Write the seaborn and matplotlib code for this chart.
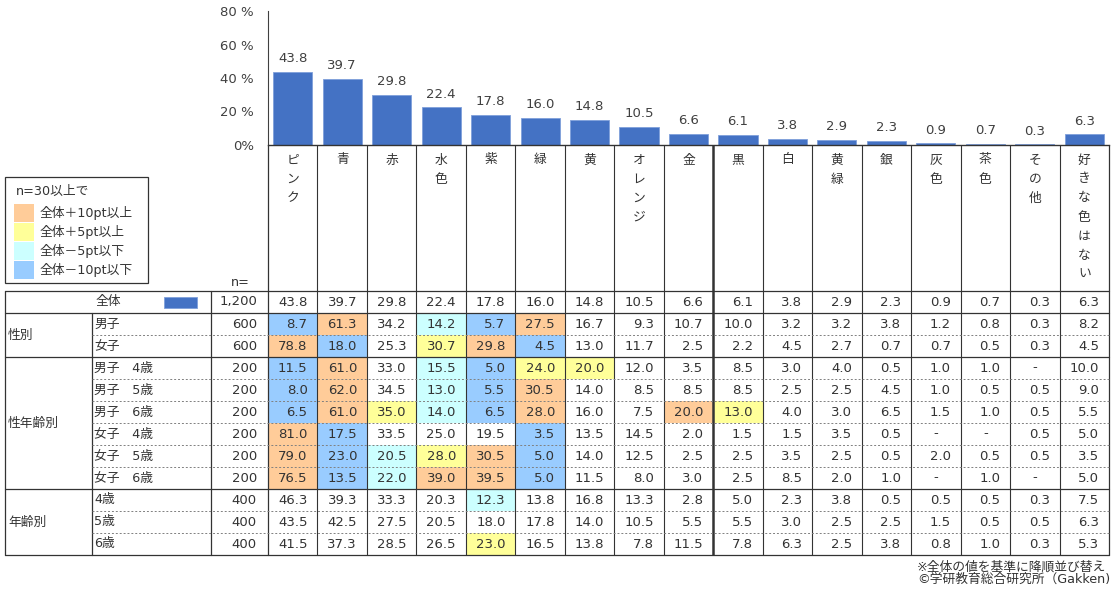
import numpy as np
import pandas as pd
import matplotlib.pyplot as plt
import seaborn as sns
from matplotlib.colors import ListedColormap
from matplotlib.patches import Rectangle

# ─────────────────────────────────────────
# DATOS
# ─────────────────────────────────────────
colores = ['ピンク', '青', '赤', '水色', '紫', '緑', '黄', 'オレンジ', '金',
           '黒', '白', '黄緑', '銀', '灰色', '茶色', 'その他', '好きな色はない']

total = [43.8, 39.7, 29.8, 22.4, 17.8, 16.0, 14.8, 10.5, 6.6,
         6.1, 3.8, 2.9, 2.3, 0.9, 0.7, 0.3, 6.3]
n_total = 1200

grupos = [('性別', ['男子', '女子']),
          ('性年齢別', ['男子　4歳', '男子　5歳', '男子　6歳',
                    '女子　4歳', '女子　5歳', '女子　6歳']),
          ('年齢別', ['4歳', '5歳', '6歳'])]

n_filas = [600, 600, 200, 200, 200, 200, 200, 200, 400, 400, 400]

NA = np.nan
datos = [
    [8.7, 61.3, 34.2, 14.2, 5.7, 27.5, 16.7, 9.3, 10.7, 10.0, 3.2, 3.2, 3.8, 1.2, 0.8, 0.3, 8.2],
    [78.8, 18.0, 25.3, 30.7, 29.8, 4.5, 13.0, 11.7, 2.5, 2.2, 4.5, 2.7, 0.7, 0.7, 0.5, 0.3, 4.5],
    [11.5, 61.0, 33.0, 15.5, 5.0, 24.0, 20.0, 12.0, 3.5, 8.5, 3.0, 4.0, 0.5, 1.0, 1.0, NA, 10.0],
    [8.0, 62.0, 34.5, 13.0, 5.5, 30.5, 14.0, 8.5, 8.5, 8.5, 2.5, 2.5, 4.5, 1.0, 0.5, 0.5, 9.0],
    [6.5, 61.0, 35.0, 14.0, 6.5, 28.0, 16.0, 7.5, 20.0, 13.0, 4.0, 3.0, 6.5, 1.5, 1.0, 0.5, 5.5],
    [81.0, 17.5, 33.5, 25.0, 19.5, 3.5, 13.5, 14.5, 2.0, 1.5, 1.5, 3.5, 0.5, NA, NA, 0.5, 5.0],
    [79.0, 23.0, 20.5, 28.0, 30.5, 5.0, 14.0, 12.5, 2.5, 2.5, 3.5, 2.5, 0.5, 2.0, 0.5, 0.5, 3.5],
    [76.5, 13.5, 22.0, 39.0, 39.5, 5.0, 11.5, 8.0, 3.0, 2.5, 8.5, 2.0, 1.0, NA, 1.0, NA, 5.0],
    [46.3, 39.3, 33.3, 20.3, 12.3, 13.8, 16.8, 13.3, 2.8, 5.0, 2.3, 3.8, 0.5, 0.5, 0.5, 0.3, 7.5],
    [43.5, 42.5, 27.5, 20.5, 18.0, 17.8, 14.0, 10.5, 5.5, 5.5, 3.0, 2.5, 2.5, 1.5, 0.5, 0.5, 6.3],
    [41.5, 37.3, 28.5, 26.5, 23.0, 16.5, 13.8, 7.8, 11.5, 7.8, 6.3, 2.5, 3.8, 0.8, 1.0, 0.3, 5.3],
]

leyenda = ['全体＋10pt以上', '全体＋5pt以上', '全体－5pt以下', '全体－10pt以下']
col_ley = ['#FFCC99', '#FFFF99', '#CCFFFF', '#99CCFF']

# ─────────────────────────────────────────
# CÓDIGOS DE COLOR (diferencia con 全体)
# ─────────────────────────────────────────
tabla = pd.DataFrame([total] + datos, columns=colores)
dif = (tabla - np.array(total)).round(1)
codigo = np.select([dif >= 10, dif >= 5, dif <= -10, dif <= -5], [2, 1, -2, -1], 0)
ns = np.array([n_total] + n_filas)
codigo[ns < 30, :] = 0
codigo[0, :] = 0
codigo = pd.DataFrame(codigo, columns=colores)
cmap = ListedColormap(['#99CCFF', '#CCFFFF', '#FFFFFF', '#FFFF99', '#FFCC99'])

# ─────────────────────────────────────────
# FIGURA
# ─────────────────────────────────────────
sns.set_style('white')
plt.rcParams['font.family'] = ['DejaVu Sans', 'Noto Sans CJK JP']

W, H = 1117, 590
fig = plt.figure(figsize=(W / 100, H / 100), dpi=100)
TXT = '#333333'
LIN = '#333333'
AZUL = '#4472C4'
FJ = 9.2   # texto japonés
FN = 9.5   # números


def ejes_px(x0, y0, x1, y1):
    return fig.add_axes([x0 / W, 1 - y1 / H, (x1 - x0) / W, (y1 - y0) / H])


X0, X1 = 268, 1109
CW = (X1 - X0) / len(colores)
YT0, RH = 291, 22
YT1 = YT0 + RH * 12

# barras
ax_bar = ejes_px(X0, 11, X1, 145)
sns.barplot(x=colores, y=total, color=AZUL, saturation=1, width=0.79,
            edgecolor='#7F9FDA', linewidth=0.6, ax=ax_bar)
ax_bar.set_xlim(-0.5, len(colores) - 0.5)
ax_bar.set_ylim(0, 80)
ax_bar.set_yticks([0, 20, 40, 60, 80])
ax_bar.set_yticklabels(['0%', '20 %', '40 %', '60 %', '80 %'])
ax_bar.tick_params(axis='y', direction='in', length=4, width=0.8, pad=10,
                   labelsize=FN, colors='#404040')
ax_bar.tick_params(axis='x', length=0, labelbottom=False)
ax_bar.set_xlabel('')
ax_bar.set_ylabel('')
for s in ['top', 'right']:
    ax_bar.spines[s].set_visible(False)
ax_bar.spines['left'].set_color('#404040')
ax_bar.spines['left'].set_linewidth(0.8)
ax_bar.spines['bottom'].set_color(LIN)
ax_bar.spines['bottom'].set_linewidth(1.0)
ax_bar.bar_label(ax_bar.containers[0], fmt='%.1f', padding=5,
                 fontsize=FN, color='#404040')

# tabla de colores
ax_tab = ejes_px(X0, YT0, X1, YT1)
sns.heatmap(codigo, cmap=cmap, vmin=-2.5, vmax=2.5, cbar=False,
            xticklabels=False, yticklabels=False, ax=ax_tab)
valores = tabla.values
for i in range(valores.shape[0]):
    for j in range(valores.shape[1]):
        v = valores[i, j]
        if np.isnan(v):
            ax_tab.text(j + 0.5, i + 0.5, '-', ha='center', va='center',
                        fontsize=FN, color=TXT)
        else:
            ax_tab.text(j + 1 - 0.2, i + 0.5, f'{v:.1f}', ha='right',
                        va='center', fontsize=FN, color=TXT)

# ─────────────────────────────────────────
# CAPA DE LÍNEAS Y TEXTOS (píxeles)
# ─────────────────────────────────────────
ov = fig.add_axes([0, 0, 1, 1])
ov.set_xlim(0, W)
ov.set_ylim(H, 0)
ov.axis('off')

# encabezados verticales
for j, nombre in enumerate(colores):
    cx = X0 + (j + 0.5) * CW
    for k, ch in enumerate(nombre):
        ov.text(cx, 160 + 19 * k, ch, ha='center', va='center',
                fontsize=FJ, color=TXT)

# líneas verticales
for k in range(1, len(colores)):
    x = X0 + k * CW
    ov.plot([x, x], [145, YT1], color=LIN, lw=1.8 if k == 9 else 0.8,
            solid_capstyle='butt')
ov.plot([X0, X0], [145, YT1], color=LIN, lw=0.9)
ov.plot([X1, X1], [145, YT1], color=LIN, lw=0.9)
ov.plot([211, 211], [YT0, YT1], color=LIN, lw=0.9)
ov.plot([92, 92], [YT0 + RH, YT1], color=LIN, lw=0.9)
ov.plot([5, 5], [YT0, YT1], color=LIN, lw=0.9)

# líneas horizontales
for r in [0, 1, 3, 9, 12]:
    y = YT0 + r * RH
    ov.plot([5, X1], [y, y], color=LIN, lw=0.9)
for r in [2, 4, 5, 6, 7, 8, 10, 11]:
    y = YT0 + r * RH
    ov.plot([92, X1], [y, y], color='#808080', lw=0.7, ls=(0, (2, 2)))

# etiquetas de filas
ov.text(240, 282, 'n=', ha='center', va='center', fontsize=FJ, color=TXT)
ov.text(96, YT0 + RH / 2, '全体', ha='left', va='center', fontsize=FJ, color=TXT)
ov.add_patch(Rectangle((164, 297), 33, 11, facecolor=AZUL,
                       edgecolor='#7F9FDA', lw=0.6))
ov.text(257, YT0 + RH / 2, f'{n_total:,}', ha='right', va='center',
        fontsize=FN, color=TXT)

fila = 1
for grupo, etiquetas in grupos:
    yc = YT0 + (fila + len(etiquetas) / 2) * RH
    ov.text(8, yc, grupo, ha='left', va='center', fontsize=FJ, color=TXT)
    for et in etiquetas:
        y = YT0 + (fila + 0.5) * RH
        ov.text(94, y, et, ha='left', va='center', fontsize=FJ, color=TXT)
        ov.text(257, y, f'{n_filas[fila - 1]:,}', ha='right', va='center',
                fontsize=FN, color=TXT)
        fila += 1

# leyenda
ov.add_patch(Rectangle((5, 177), 143, 106, facecolor='white',
                       edgecolor=LIN, lw=0.9))
ov.text(16, 191, 'n=30以上で', ha='left', va='center', fontsize=FJ, color=TXT)
for k, (lab, c) in enumerate(zip(leyenda, col_ley)):
    y = 204 + 19 * k
    ov.add_patch(Rectangle((14, y), 20, 18, facecolor=c, edgecolor='none'))
    ov.text(40, y + 9, lab, ha='left', va='center', fontsize=FJ, color=TXT)

# notas
ov.text(1106, 567, '※全体の値を基準に降順並び替え', ha='right', va='center',
        fontsize=FJ, color=TXT)
ov.text(1110, 579, '©学研教育総合研究所（Gakken)', ha='right', va='center',
        fontsize=FJ, color=TXT)

plt.savefig('out.png', dpi=100, facecolor='white')
plt.close()
